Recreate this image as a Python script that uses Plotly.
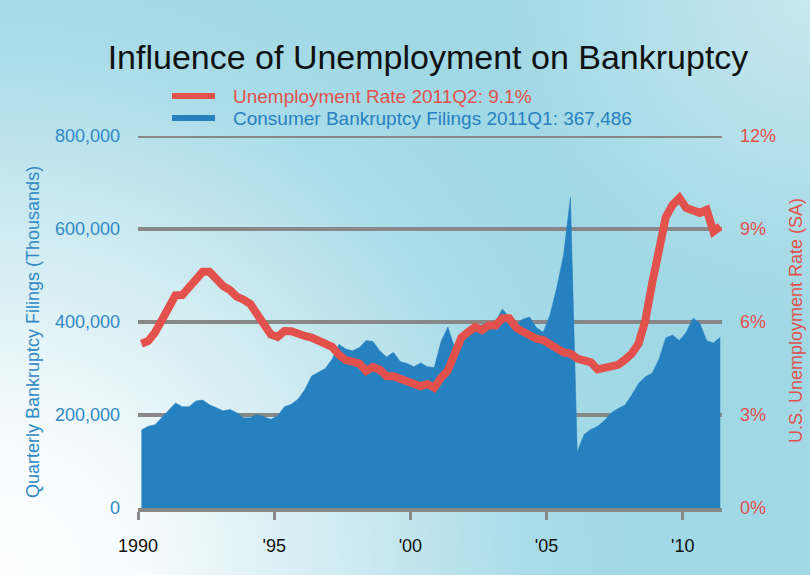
import base64
import plotly.graph_objects as go

# ---------------- data ----------------
start_year = 1990
quarters = [f"{start_year + i // 4}Q{i % 4 + 1}" for i in range(86)]  # 1990Q1 .. 2011Q2

filings_thousands = [
    168, 176, 179, 195, 212, 226, 218, 218, 230, 232,
    222, 215, 209, 212, 205, 194, 194, 201, 196, 191,
    198, 218, 223, 234, 255, 284, 292, 300, 320, 352,
    342, 338, 345, 360, 358, 338, 325, 335, 315, 311,
    304, 312, 304, 302, 358, 389, 345, 366, 383, 390,
    394, 398, 401, 428, 411, 394, 406, 411, 388, 378,
    415, 475, 545, 668, 121, 158, 169, 176, 188, 205,
    214, 221, 243, 268, 282, 290, 320, 366, 372, 360,
    378, 408, 398, 360, 355, 367,
]
filings = [v * 1000 for v in filings_thousands]

unemployment = [
    5.30, 5.39, 5.66, 6.07, 6.52, 6.86, 6.87, 7.15, 7.40, 7.62,
    7.62, 7.37, 7.16, 7.03, 6.82, 6.72, 6.58, 6.25, 5.95, 5.60,
    5.52, 5.71, 5.70, 5.60, 5.55, 5.50, 5.40, 5.33, 5.20, 4.95,
    4.77, 4.72, 4.66, 4.42, 4.55, 4.46, 4.25, 4.25, 4.17, 4.07,
    4.00, 3.93, 4.00, 3.88, 4.20, 4.43, 4.98, 5.50, 5.68, 5.84,
    5.74, 5.89, 5.89, 6.12, 6.12, 5.82, 5.69, 5.55, 5.46, 5.42,
    5.32, 5.15, 5.02, 4.98, 4.82, 4.74, 4.70, 4.47, 4.53, 4.55,
    4.62, 4.78, 4.98, 5.30, 6.05, 7.25, 8.50, 9.38, 9.78, 10.00,
    9.68, 9.60, 9.52, 9.62, 8.92, 9.08,
]

year_ticks = [1990, 1995, 2000, 2005, 2010]
year_labels = ["1990", "'95", "'00", "'05", "'10"]
left_ticks = [0, 200000, 400000, 600000, 800000]
right_ticks = [0, 3, 6, 9, 12]
right_labels = [f"{v}%" for v in right_ticks]

title_text = "Influence of Unemployment on Bankruptcy"
legend_red = "Unemployment Rate 2011Q2: 9.1%"
legend_blue = "Consumer Bankruptcy Filings 2011Q1: 367,486"
left_title = "Quarterly Bankruptcy Filings (Thousands)"
right_title = "U.S. Unemployment Rate (SA)"


def quarter_mid(q):
    y, n = q.split("Q")
    return int(y) + (int(n) - 1) * 0.25 + 0.125


x_vals = [quarter_mid(q) for q in quarters]

# ---------------- styling ----------------
RED = "#e2514c"
BLUE = "#2681c1"
BLUE_TXT = "#2f89c7"
GRID = "#888888"
SANS = "Liberation Sans, Arial, sans-serif"

W, H = 810, 575
L, R, T, B = 138, 88, 136, 67
PW, PH = W - L - R, H - T - B


def px_x(p):
    return (p - L) / PW


def px_y(p):
    return (H - B - p) / PH


svg = f"""<svg xmlns='http://www.w3.org/2000/svg' width='{W}' height='{H}'>
<defs>
<radialGradient id='g' cx='0' cy='{H}' r='660' gradientUnits='userSpaceOnUse'>
<stop offset='0' stop-color='#ffffff'/>
<stop offset='0.22' stop-color='#f6fbfd'/>
<stop offset='0.5' stop-color='#d2ecf2'/>
<stop offset='0.8' stop-color='#a9dce8'/>
<stop offset='1' stop-color='#a0d8e5'/>
</radialGradient>
<radialGradient id='h' cx='{W}' cy='0' r='320' gradientUnits='userSpaceOnUse'>
<stop offset='0' stop-color='#ffffff' stop-opacity='0.4'/>
<stop offset='1' stop-color='#ffffff' stop-opacity='0'/>
</radialGradient>
</defs>
<rect width='{W}' height='{H}' fill='url(#g)'/>
<rect width='{W}' height='{H}' fill='url(#h)'/>
</svg>"""
bg_uri = "data:image/svg+xml;base64," + base64.b64encode(svg.encode()).decode()

fig = go.Figure()
fig.add_trace(go.Scatter(
    x=x_vals, y=filings, mode="lines", fill="tozeroy",
    line=dict(color=BLUE, width=0.5), fillcolor=BLUE,
    name=legend_blue, showlegend=False, yaxis="y",
))
fig.add_trace(go.Scatter(
    x=x_vals, y=unemployment, mode="lines",
    line=dict(color=RED, width=8),
    name=legend_red, showlegend=False, yaxis="y2",
))

# horizontal gridlines (drawn beneath the data)
for v in left_ticks[1:]:
    fig.add_shape(type="line", xref="paper", yref="y", x0=0, x1=1, y0=v, y1=v,
                  line=dict(color=GRID, width=4), layer="below")

fig.update_layout(
    width=W, height=H,
    margin=dict(l=L, r=R, t=T, b=B),
    paper_bgcolor="#a6dbe7",
    plot_bgcolor="rgba(0,0,0,0)",
    images=[dict(source=bg_uri, xref="paper", yref="paper",
                 x=px_x(0), y=px_y(0), sizex=W / PW, sizey=H / PH,
                 xanchor="left", yanchor="top", sizing="stretch", layer="below")],
    title=dict(text=title_text, x=px_x(428), xref="paper", xanchor="center",
               y=1 - 57 / H, yref="container", yanchor="middle",
               font=dict(family=SANS, size=34, color="#111111")),
    xaxis=dict(range=[1990, 1990 + PW / 27.24], tickvals=year_ticks, ticktext=year_labels,
               showgrid=False, zeroline=False, showline=True, linecolor=GRID, linewidth=4,
               ticks="outside", ticklen=8, tickwidth=3, tickcolor=GRID,
               ticklabelstandoff=10,
               tickfont=dict(family=SANS, size=18, color="#111111")),
    yaxis=dict(range=[0, 800000], tickvals=left_ticks, tickformat=",",
               showgrid=False, zeroline=False,
               ticks="", ticklabelstandoff=17,
               tickfont=dict(family=SANS, size=18, color=BLUE_TXT)),
    yaxis2=dict(range=[0, 12], tickvals=right_ticks, ticktext=right_labels,
                overlaying="y", side="right", showgrid=False, zeroline=False,
                ticks="", ticklabelstandoff=17,
                tickfont=dict(family=SANS, size=18, color=RED)),
    showlegend=False,
)

# legend (swatches + labels)
for ypix, col, txt in [(96, RED, legend_red), (118, BLUE, legend_blue)]:
    fig.add_shape(type="line", xref="paper", yref="paper",
                  x0=px_x(172), x1=px_x(215), y0=px_y(ypix), y1=px_y(ypix),
                  line=dict(color=col, width=6))
    fig.add_annotation(text=txt, xref="paper", yref="paper", x=px_x(231), y=px_y(ypix),
                       xanchor="left", yanchor="middle", showarrow=False,
                       font=dict(family=SANS, size=19, color=col))

# axis titles
fig.add_annotation(text=left_title, xref="paper", yref="paper", x=px_x(33), y=px_y(332),
                   xanchor="center", yanchor="middle", textangle=-90, showarrow=False,
                   font=dict(family=SANS, size=18, color=BLUE_TXT))
fig.add_annotation(text=right_title, xref="paper", yref="paper", x=px_x(796), y=px_y(321),
                   xanchor="center", yanchor="middle", textangle=-90, showarrow=False,
                   font=dict(family=SANS, size=18, color=RED))

fig.write_html("out.html")
